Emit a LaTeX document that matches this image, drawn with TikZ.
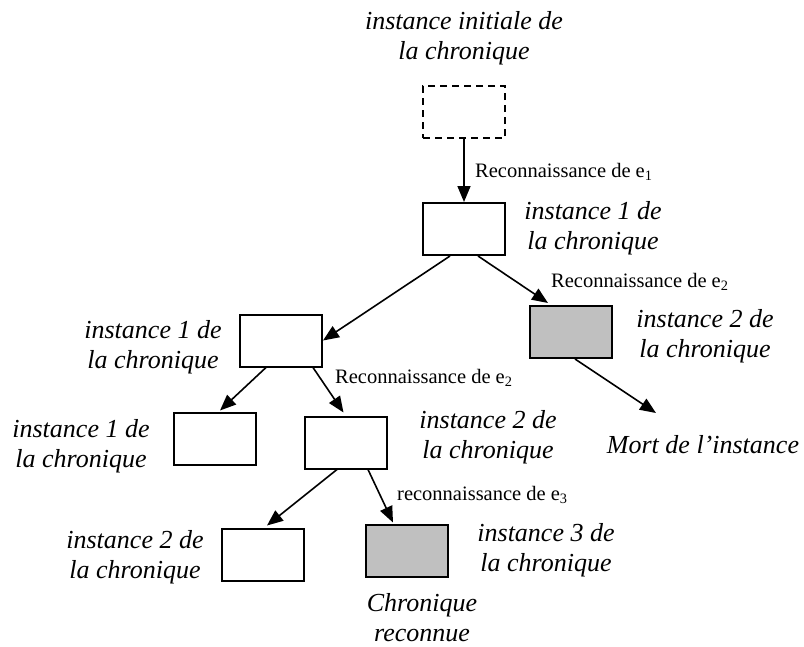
\documentclass[tikz,border=0pt]{standalone}
\usepackage{fontspec}
\setmainfont{Liberation Serif}
\usetikzlibrary{arrows.meta,calc}
\definecolor{boxgray}{RGB}{192,192,192}
\tikzset{
  inst/.style={draw=black, line width=2pt, minimum width=82pt, minimum height=52pt, inner sep=0pt, fill=white},
  dead/.style={inst, fill=boxgray},
  initbox/.style={inst, dash pattern=on 7pt off 5pt, line width=1.6pt},
  conn/.style={line width=1.6pt, -{Triangle[length=16pt,width=13pt]}},
  lab/.style={font=\fontsize{26}{30}\selectfont\itshape, align=center, inner sep=0pt},
  evt/.style={font=\fontsize{20.5}{23}\selectfont, inner sep=0pt, anchor=west},
}
\begin{document}
\begin{tikzpicture}[x=1pt,y=-1pt]
\useasboundingbox (0,0) rectangle (804,646);
% boxes
\node[initbox] (d)  at (464,112) {};
\node[inst]    (b1) at (464,229) {};
\node[inst]    (l1) at (281,340.5) {};
\node[dead]    (r)  at (570.5,332) {};
\node[inst]    (ll) at (215,438.5) {};
\node[inst]    (lr) at (345.5,442.5) {};
\node[inst]    (bl) at (263,554.5) {};
\node[dead]    (br) at (407,550.5) {};
% labels
\node[lab] (tinit) at (464,38.5) {instance initiale de\\la chronique};
\node[lab] (tb1) at (593,228) {instance 1 de\\la chronique};
\node[lab] (tl1) at (153,347) {instance 1 de\\la chronique};
\node[lab] (tr) at (705,336) {instance 2 de\\la chronique};
\node[lab] (tll) at (81,446) {instance 1 de\\la chronique};
\node[lab] (tlr) at (488,437) {instance 2 de\\la chronique};
\node[lab] (tbl) at (135,557) {instance 2 de\\la chronique};
\node[lab] (tbr) at (546,550) {instance 3 de\\la chronique};
\node[lab] (tchr) at (422,618) {Chronique\\reconnue};
\node[lab] (mort) at (703,445) {Mort de l’instance};
\coordinate (mortin) at (656,413);
% events
\node[evt] (e1) at (475,172) {Reconnaissance de e\textsubscript{1}};
\node[evt] (e2a) at (551,282) {Reconnaissance de e\textsubscript{2}};
\node[evt] (e2b) at (335,378) {Reconnaissance de e\textsubscript{2}};
\node[evt] (e3) at (397,495) {reconnaissance de e\textsubscript{3}};
% connectors
\draw[conn] (d.south) -- (b1.north);
\draw[conn] ($(b1.south)+(-14,0)$) -- (l1.east);
\draw[conn] ($(b1.south)+(14,0)$) -- ($(r.north)+(-22.5,-2)$);
\draw[conn] ($(r.south)+(4.5,0)$) -- (mortin);
\draw[conn] ($(l1.south)+(-15,0)$) -- ($(ll.north)+(5,-1)$);
\draw[conn] ($(l1.south)+(32,0)$) -- ($(lr.north)+(-2,-3)$);
\draw[conn] ($(lr.south)+(-8.5,0)$) -- ($(bl.north)+(4,-2)$);
\draw[conn] ($(lr.south)+(22.5,0)$) -- ($(br.north)+(-14,-1)$);
\end{tikzpicture}
\end{document}
